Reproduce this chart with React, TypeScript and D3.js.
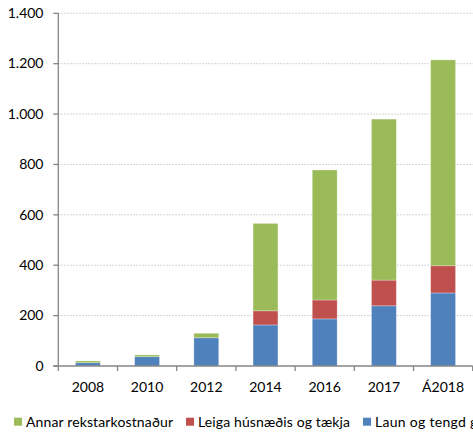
import React from "react";
import * as d3 from "d3";

const categories = ["2008", "2010", "2012", "2014", "2016", "2017", "Á2018"];
const laun = [13, 37, 112, 163, 187, 239, 290];
const leiga = [0, 0, 0, 56, 75, 102, 108];
const annar = [7, 7, 18, 347, 516, 639, 817];
const seriesNames = ["Laun og tengd gjöld", "Leiga húsnæðis og tækja", "Annar rekstarkostnaður"];
const seriesColors = ["#4F81BD", "#C0504D", "#9BBB59"];
const yTicks = [0, 200, 400, 600, 800, 1000, 1200, 1400];

const W = 473;
const H = 433;
const left = 58.3;
const right = 472.7;
const top = 13.3;
const bottom = 366;
const FONT = "Lato, 'Liberation Sans', sans-serif";

const fmt = (v: number) => d3.format(",")(v).replace(/,/g, ".");

export default function App() {
  const x = d3.scaleBand<string>().domain(categories).range([left, right]).paddingInner(0.58).paddingOuter(0.29);
  const y = d3.scaleLinear().domain([0, 1400]).range([bottom, top]);
  const rows = categories.map((c, i) => ({ cat: c, laun: laun[i], leiga: leiga[i], annar: annar[i] }));
  const stack = d3.stack<any>().keys(["laun", "leiga", "annar"])(rows);
  const step = (right - left) / categories.length;

  const legendItems = [
    { name: seriesNames[2], color: seriesColors[2], x: 14, len: 147 },
    { name: seriesNames[1], color: seriesColors[1], x: 186, len: 152 },
    { name: seriesNames[0], color: seriesColors[0], x: 363, len: 0 },
  ];

  return (
    <svg width={W} height={H} style={{ position: "absolute", left: 0, top: 0, background: "#fff" }} fontFamily={FONT}>
      {yTicks.filter((t) => t > 0).map((t) => (
        <line key={"g" + t} x1={left} x2={right} y1={y(t)} y2={y(t)} stroke="#C8C8C8" strokeWidth={1} strokeDasharray="1.5,1.5" />
      ))}
      {stack.map((s, si) =>
        s.map((d, i) => {
          const h = y(d[0]) - y(d[1]);
          if (h <= 0) return null;
          return (
            <rect
              key={si + "-" + i}
              x={x(categories[i])!}
              y={y(d[1])}
              width={x.bandwidth()}
              height={h}
              fill={seriesColors[si]}
              stroke="#ffffff"
              strokeOpacity={0.35}
              strokeWidth={0.8}
            />
          );
        })
      )}
      <line x1={left} x2={left} y1={top} y2={bottom} stroke="#868686" strokeWidth={1.3} />
      <line x1={left - 5} x2={right} y1={bottom} y2={bottom} stroke="#868686" strokeWidth={1.3} />
      {yTicks.map((t) => (
        <g key={"y" + t}>
          <line x1={left - 5} x2={left} y1={y(t)} y2={y(t)} stroke="#868686" strokeWidth={1.3} />
          <text x={43.5} y={y(t) + 4.8} textAnchor="end" fontSize={14} fill="#000">
            {fmt(t)}
          </text>
        </g>
      ))}
      {d3.range(categories.length + 1).map((i) => (
        <line key={"xt" + i} x1={left + i * step} x2={left + i * step} y1={bottom} y2={bottom + 5} stroke="#868686" strokeWidth={1.3} />
      ))}
      {categories.map((c) => (
        <text key={"xl" + c} x={x(c)! + x.bandwidth() / 2} y={391.5} textAnchor="middle" fontSize={14} fill="#000">
          {c}
        </text>
      ))}
      {legendItems.map((l) => (
        <g key={l.name}>
          <rect x={l.x} y={417.7} width={8} height={8} fill={l.color} />
          <text
            x={l.x + 12}
            y={426.5}
            fontSize={14}
            fill="#000"
            {...(l.len ? { textLength: l.len, lengthAdjust: "spacing" } : { letterSpacing: 0.3 })}
          >
            {l.name}
          </text>
        </g>
      ))}
    </svg>
  );
}
